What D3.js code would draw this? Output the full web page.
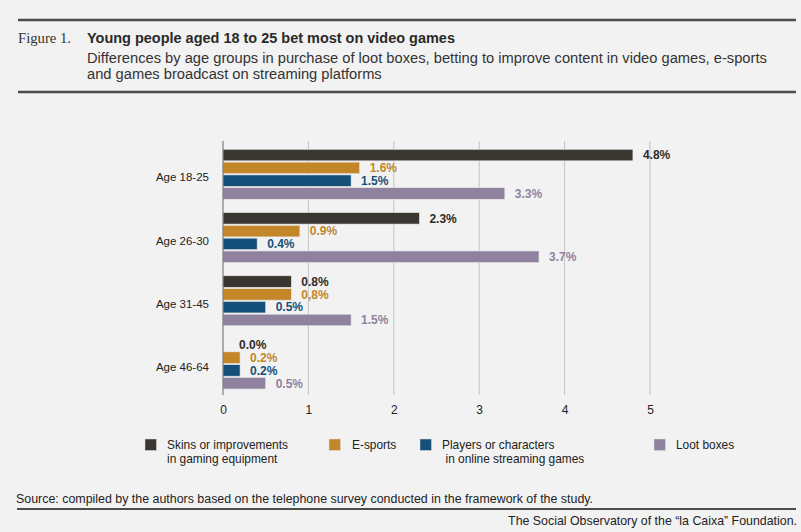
<!DOCTYPE html>
<html><head><meta charset="utf-8">
<script src="https://cdn.jsdelivr.net/npm/d3@7"></script>
<style>
html,body{margin:0;padding:0;background:#f2f2f2;}
svg{display:block;}
.sans{font-family:"Liberation Sans",Arial,sans-serif;}
.serif{font-family:"Liberation Serif","DejaVu Serif",serif;}
</style>
</head><body>
<svg id="c" width="801" height="532"></svg>
<script>
const groups = ["Age 18-25", "Age 26-30", "Age 31-45", "Age 46-64"];
const seriesNames = ["Skins or improvements in gaming equipment", "E-sports", "Players or characters in online streaming games", "Loot boxes"];
const skins = [4.8, 2.3, 0.8, 0.0];
const esports = [1.6, 0.9, 0.8, 0.2];
const players = [1.5, 0.4, 0.5, 0.2];
const loot = [3.3, 3.7, 1.5, 0.5];
const skinsLabels = ["4.8%", "2.3%", "0.8%", "0.0%"];
const esportsLabels = ["1.6%", "0.9%", "0,8%", "0.2%"];
const playersLabels = ["1.5%", "0.4%", "0.5%", "0.2%"];
const lootLabels = ["3.3%", "3.7%", "1.5%", "0.5%"];
const xTicks = [0, 1, 2, 3, 4, 5];

const colors = ["#3a3631", "#c38729", "#15507a", "#8f829f"];
const labelColors = ["#2f2c28", "#c38729", "#15507a", "#8f829f"];
const seriesValues = [skins, esports, players, loot];
const seriesLabels = [skinsLabels, esportsLabels, playersLabels, lootLabels];

const svg = d3.select("#c");
const ink = "#4d4d4d";

// fit a text's font size so it spans a target width
function fit(sel, target) {
  const node = sel.node();
  const fs = parseFloat(sel.attr("font-size"));
  const w = node.getComputedTextLength();
  if (w > 0) sel.attr("font-size", (fs * target / w).toFixed(2));
  return sel;
}

// header rules
svg.append("line").attr("x1",18).attr("x2",796).attr("y1",20).attr("y2",20).attr("stroke",ink).attr("stroke-width",2.5);
svg.append("line").attr("x1",18).attr("x2",796).attr("y1",92).attr("y2",92).attr("stroke",ink).attr("stroke-width",2.5);

fit(svg.append("text").attr("class","serif").attr("x",18).attr("y",43)
  .attr("font-size",14).attr("fill","#333").text("Figure 1."), 53);
fit(svg.append("text").attr("class","sans").attr("x",87).attr("y",43).attr("font-size",15).attr("font-weight","bold")
  .attr("fill","#2a2a2a").text("Young people aged 18 to 25 bet most on video games"), 368);
const sub1 = fit(svg.append("text").attr("class","sans").attr("x",87).attr("y",63).attr("font-size",14).attr("fill","#333")
  .text("Differences by age groups in purchase of loot boxes, betting to improve content in video games, e-sports"), 680);
svg.append("text").attr("class","sans").attr("x",87).attr("y",79).attr("font-size",sub1.attr("font-size")).attr("fill","#333")
  .text("and games broadcast on streaming platforms");

// scales
const x = d3.scaleLinear().domain([0,5]).range([223,650]);
const y0 = d3.scaleBand().domain(groups).range([149.3, 389]).paddingInner(0.21).paddingOuter(0);
const y1 = d3.scaleBand().domain(d3.range(4)).range([0, y0.bandwidth()]).paddingInner(0.1);

const gridTop = 141, gridBottom = 395;
svg.append("g").selectAll("line").data(xTicks.filter(d=>d>0)).join("line")
  .attr("x1",d=>x(d)).attr("x2",d=>x(d)).attr("y1",gridTop).attr("y2",gridBottom)
  .attr("stroke","#c4c4c4").attr("stroke-width",1);

// bars
const gg = svg.append("g").selectAll("g").data(groups).join("g")
  .attr("transform",g=>`translate(0,${y0(g)})`);
gg.each(function(g,gi){
  const sel = d3.select(this);
  seriesValues.forEach((vals,si)=>{
    const v = vals[gi];
    if (v > 0) {
      sel.append("rect").attr("x",x(0)).attr("y",y1(si)).attr("width",x(v)-x(0)).attr("height",y1.bandwidth())
        .attr("fill",colors[si]).attr("stroke","#e6e6e6").attr("stroke-width",0.6);
    }
    sel.append("text").attr("class","sans").attr("x",x(v)+ (v>0?10:16)).attr("y",y1(si)+y1.bandwidth()/2)
      .attr("dy","0.36em").attr("font-size",12).attr("font-weight","bold").attr("fill",labelColors[si])
      .text(seriesLabels[si][gi]);
  });
});

// zero axis line
svg.append("line").attr("x1",x(0)).attr("x2",x(0)).attr("y1",gridTop).attr("y2",gridBottom).attr("stroke","#666").attr("stroke-width",1);

// category labels
svg.append("g").selectAll("text").data(groups).join("text").attr("class","sans")
  .attr("x",209).attr("y",g=>y0(g)+y0.bandwidth()/2+3).attr("dy","0.36em").attr("text-anchor","end")
  .attr("font-size",11.5).attr("fill","#222").text(g=>g);

// x axis
const xAxis = d3.axisBottom(x).tickValues(xTicks).tickSize(0).tickPadding(0).tickFormat(d3.format("d"));
const ax = svg.append("g").attr("transform",`translate(0,${gridBottom})`).call(xAxis);
ax.select(".domain").remove();
ax.selectAll("text").attr("class","sans").attr("font-size",12).attr("fill","#222").attr("dy","1.6em");

// legend
const legendItems = [
  {x:145, tx:167, lines:["Skins or improvements","in gaming equipment"], w:121, dx2:0},
  {x:329, tx:352, lines:["E-sports"], w:0, dx2:0},
  {x:420, tx:442, lines:["Players or characters","in online streaming games"], w:110, dx2:3.5},
  {x:654, tx:676, lines:["Loot boxes"], w:0, dx2:0}
];
const lg = svg.append("g").selectAll("g").data(legendItems).join("g");
lg.append("rect").attr("x",d=>d.x).attr("y",439).attr("width",11.5).attr("height",11.5)
  .attr("fill",(d,i)=>colors[i]).attr("stroke","#ddd").attr("stroke-width",0.5);
let legendFs = 13;
{
  const probe = fit(svg.append("text").attr("class","sans").attr("font-size",13).text("Skins or improvements"), 121);
  legendFs = parseFloat(probe.attr("font-size"));
  probe.remove();
}
lg.each(function(d){
  const t = d3.select(this);
  d.lines.forEach((ln,li)=>{
    t.append("text").attr("class","sans").attr("x",d.tx + (li>0?d.dx2:0)).attr("y",449+li*13.5)
      .attr("font-size",legendFs).attr("fill","#222").text(ln);
  });
});

// footer
fit(svg.append("text").attr("class","sans").attr("x",16).attr("y",503).attr("font-size",13).attr("fill","#222")
  .text("Source: compiled by the authors based on the telephone survey conducted in the framework of the study."), 577);
svg.append("line").attr("x1",17).attr("x2",796).attr("y1",509).attr("y2",509).attr("stroke",ink).attr("stroke-width",2);
fit(svg.append("text").attr("class","sans").attr("x",797).attr("y",525).attr("text-anchor","end").attr("font-size",13).attr("fill","#222")
  .text("The Social Observatory of the \u201cla Caixa\u201d Foundation."), 289);
</script>
</body></html>
